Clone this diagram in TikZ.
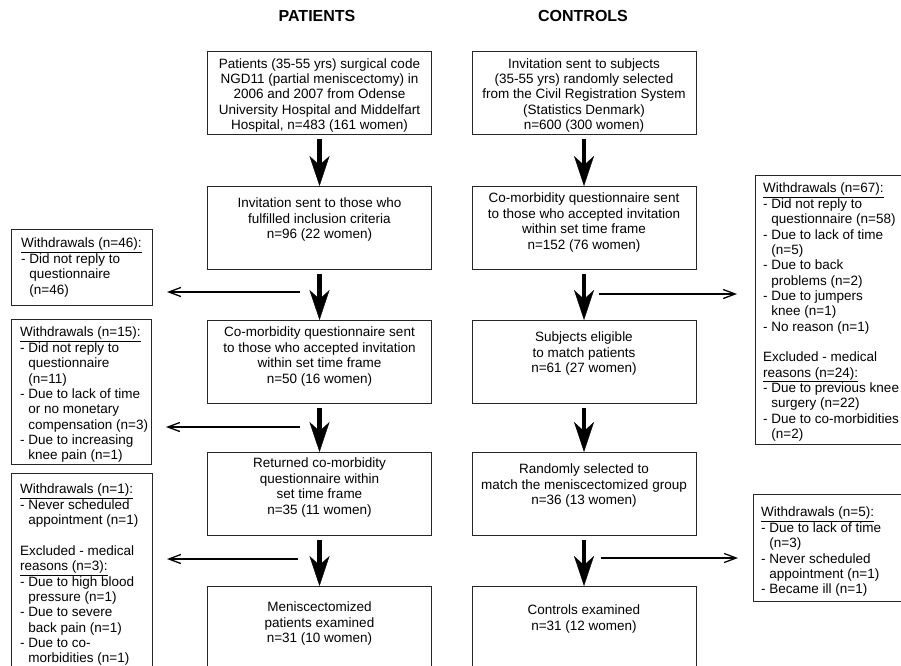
\documentclass[tikz,border=0pt]{standalone}
\usepackage{fontspec}
\setmainfont{Liberation Sans}
\usetikzlibrary{arrows.meta, positioning}

\tikzstyle{mainbox}  = [draw=black!85, line width=0.8pt, minimum width=224pt, minimum height=83pt, inner sep=0pt, outer sep=0pt]
\tikzstyle{sidebox}  = [draw=black!85, line width=0.8pt, inner sep=0pt, outer sep=0pt]
\tikzstyle{txt}      = [align=center, inner sep=0pt, font=\fontsize{13.5}{15.35}\selectfont]
\tikzstyle{sidetxt}  = [align=left, inner sep=0pt, font=\fontsize{13.5}{15.35}\selectfont]
\tikzstyle{head}     = [inner sep=0pt, font=\fontsize{16}{18}\selectfont\bfseries]
\tikzstyle{flow}     = [line width=4.5pt, -{Stealth[length=30pt, width=20pt, inset=9pt, line width=0.4pt]}, shorten <=5pt]
\tikzstyle{sidearrow}= [line width=1.3pt, -{Straight Barb[length=12pt, width=9pt, line width=1.3pt]}, shorten >=15pt]
\newcommand{\indnt}{\hphantom{-\ }}

\begin{document}
\begin{tikzpicture}[x=1pt, y=-1pt]
  \useasboundingbox (0,0) rectangle (901,665);

  \node[head] (hpat) at (317, 16) {PATIENTS};
  \node[head] (hctl) at (583, 16) {CONTROLS};

  % patients
  \node[mainbox] (p1) at (319.5, 92.75) {};
  \node[mainbox] (p2) at (319.5, 227.5) {};
  \node[mainbox] (p3) at (319.5, 361.5) {};
  \node[mainbox] (p4) at (319.5, 493.5) {};
  \node[mainbox] (p5) at (319.5, 627.5) {};
  \node[txt, below=7pt of p1.north]  (p1t) {Patients (35-55 yrs) surgical code\\ NGD11 (partial meniscectomy) in\\ 2006 and 2007 from Odense\\ University Hospital and Middelfart\\ Hospital, n=483 (161 women)};
  \node[txt, below=12pt of p2.north] (p2t) {Invitation sent to those who\\ fulfilled inclusion criteria\\ n=96 (22 women)};
  \node[txt, below=7pt of p3.north]  (p3t) {Co-morbidity questionnaire sent\\ to those who accepted invitation\\ within set time frame\\ n=50 (16 women)};
  \node[txt, below=6pt of p4.north]  (p4t) {Returned co-morbidity\\ questionnaire within\\ set time frame\\ n=35 (11 women)};
  \node[txt, below=16pt of p5.north] (p5t) {Meniscectomized\\ patients examined\\ n=31 (10 women)};

  % controls
  \node[mainbox] (c1) at (584, 92.75) {};
  \node[mainbox] (c2) at (584, 227.5) {};
  \node[mainbox] (c3) at (584, 361.5) {};
  \node[mainbox] (c4) at (584, 493.5) {};
  \node[mainbox] (c5) at (584, 627.5) {};
  \node[txt, below=7pt of c1.north]  (c1t) {Invitation sent to subjects\\ (35-55 yrs) randomly selected\\ from the Civil Registration System\\ (Statistics Denmark)\\ n=600 (300 women)};
  \node[txt, below=7pt of c2.north]  (c2t) {Co-morbidity questionnaire sent\\ to those who accepted invitation\\ within set time frame\\ n=152 (76 women)};
  \node[txt, below=12pt of c3.north] (c3t) {Subjects eligible\\ to match patients\\ n=61 (27 women)};
  \node[txt, below=12pt of c4.north] (c4t) {Randomly selected to\\ match the meniscectomized group\\ n=36 (13 women)};
  \node[txt, below=19pt of c5.north] (c5t) {Controls examined\\ n=31 (12 women)};

  % withdrawals
  \node[sidebox, minimum width=141pt, minimum height=76pt]  (w46) at (81.5, 267) {};
  \node[sidebox, minimum width=140pt, minimum height=145pt] (w15) at (81, 391.5) {};
  \node[sidebox, minimum width=141pt, minimum height=200pt] (w1)  at (81.5, 573) {};
  \node[sidebox, minimum width=147pt, minimum height=269pt] (w67) at (828.5, 309.5) {};
  \node[sidebox, minimum width=149pt, minimum height=107pt] (w5)  at (827.5, 547.5) {};
  \node[sidetxt, below right=9pt and 10pt of w46.north west] (w46t) {\underline{Withdrawals (n=46):}\\ - Did not reply to\\ \indnt questionnaire\\ \indnt (n=46)};
  \node[sidetxt, below right=8pt and 9pt of w15.north west]  (w15t) {\underline{Withdrawals (n=15):}\\ - Did not reply to\\ \indnt questionnaire\\ \indnt (n=11)\\ - Due to lack of time\\ \indnt or no monetary\\ \indnt compensation (n=3)\\ - Due to increasing\\ \indnt knee pain (n=1)};
  \node[sidetxt, below right=11pt and 9pt of w1.north west]  (w1t) {\underline{Withdrawals (n=1):}\\ - Never scheduled\\ \indnt appointment (n=1)\\[15.35pt] Excluded - medical\\ \underline{reasons (n=3):}\\ - Due to high blood\\ \indnt pressure (n=1)\\ - Due to severe\\ \indnt back pain (n=1)\\ - Due to co-\\ \indnt morbidities (n=1)};
  \node[sidetxt, below right=8pt and 8pt of w67.north west]  (w67t) {\underline{Withdrawals (n=67):}\\ - Did not reply to\\ \indnt questionnaire (n=58)\\ - Due to lack of time\\ \indnt (n=5)\\ - Due to back\\ \indnt problems (n=2)\\ - Due to jumpers\\ \indnt knee (n=1)\\ - No reason (n=1)\\[15.35pt] Excluded - medical\\ \underline{reasons (n=24):}\\ - Due to previous knee\\ \indnt surgery (n=22)\\ - Due to co-morbidities\\ \indnt (n=2)};
  \node[sidetxt, below right=13pt and 8pt of w5.north west]  (w5t) {\underline{Withdrawals (n=5):}\\ - Due to lack of time\\ \indnt (n=3)\\ - Never scheduled\\ \indnt appointment (n=1)\\ - Became ill (n=1)};

  % flow
  \draw[flow] (p1) -- (p2);
  \draw[flow] (p2) -- (p3);
  \draw[flow] (p3) -- (p4);
  \draw[flow] (p4) -- (p5);
  \draw[flow] (c1) -- (c2);
  \draw[flow] (c2) -- (c3);
  \draw[flow] (c3) -- (c4);
  \draw[flow] (c4) -- (c5);

  \coordinate (s46) at (300, 292);
  \coordinate (s15) at (300, 427);
  \coordinate (s1)  at (298, 559);
  \coordinate (s67) at (599, 294);
  \coordinate (s5)  at (601, 558);
  \draw[sidearrow] (s46) -- (s46 -| w46.east);
  \draw[sidearrow] (s15) -- (s15 -| w15.east);
  \draw[sidearrow] (s1)  -- (s1 -| w1.east);
  \draw[sidearrow, shorten >=18pt] (s67) -- (s67 -| w67.west);
  \draw[sidearrow] (s5)  -- (s5 -| w5.west);
\end{tikzpicture}
\end{document}
